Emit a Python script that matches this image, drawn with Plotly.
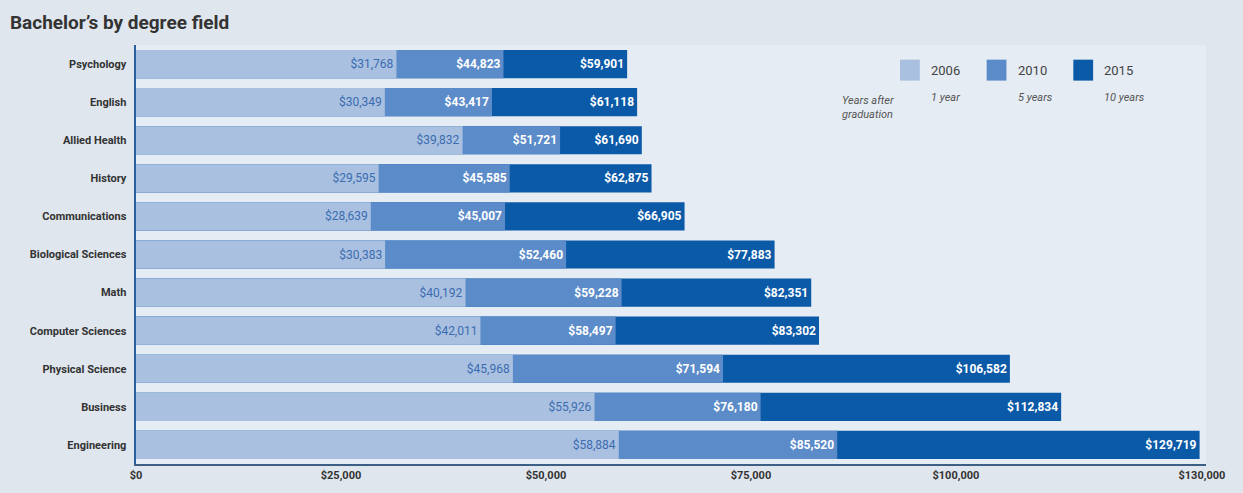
import plotly.graph_objects as go

categories = ["Psychology", "English", "Allied Health", "History", "Communications",
              "Biological Sciences", "Math", "Computer Sciences", "Physical Science",
              "Business", "Engineering"]
y2006 = [31768, 30349, 39832, 29595, 28639, 30383, 40192, 42011, 45968, 55926, 58884]
y2010 = [44823, 43417, 51721, 45585, 45007, 52460, 59228, 58497, 71594, 76180, 85520]
y2015 = [59901, 61118, 61690, 62875, 66905, 77883, 82351, 83302, 106582, 112834, 129719]
series_names = ["2006", "2010", "2015"]
series_sub = ["1 year", "5 years", "10 years"]
tick_vals = [0, 25000, 50000, 75000, 100000, 130000]
tick_text = ["$0", "$25,000", "$50,000", "$75,000", "$100,000", "$130,000"]

colors = {"2006": "#a9c0e0", "2010": "#5b8bc8", "2015": "#0b5aa8"}
text_colors = {"2006": "#3b6cb0", "2010": "#ffffff", "2015": "#ffffff"}
text_weight = {"2006": "normal", "2010": "bold", "2015": "bold"}
FONT = "Liberation Sans Narrow, Arial Narrow, Roboto, sans-serif"

def fmt(v):
    return "${:,}".format(v)

fig = go.Figure()
for name, vals in [("2015", y2015), ("2010", y2010), ("2006", y2006)]:
    fig.add_trace(go.Bar(
        y=categories, x=vals, orientation="h", name=name,
        marker=dict(color=colors[name], line=dict(width=0)),
        text=[fmt(v) for v in vals], textposition="inside",
        insidetextanchor="end", textangle=0, constraintext="none",
        textfont=dict(color=text_colors[name], size=12, family=FONT,
                      weight=text_weight[name]),
        width=0.74, showlegend=False,
    ))

fig.update_layout(
    barmode="overlay",
    width=1243, height=493,
    margin=dict(l=136, r=37, t=45, b=29),
    paper_bgcolor="#dfe6ee",
    plot_bgcolor="#e5ecf4",
    font=dict(family=FONT, color="#333333"),
    uniformtext=dict(minsize=12, mode="show"),
    title=dict(text="Bachelor’s by degree field", x=0.008, xanchor="left",
               y=0.955, yanchor="middle",
               font=dict(size=19, color="#333333", family=FONT, weight="bold")),
    xaxis=dict(range=[0, 130500], tickvals=tick_vals, ticktext=tick_text,
               showgrid=False, zeroline=False, showline=True, linecolor="#3e5f85",
               linewidth=2, ticks="",
               tickfont=dict(size=11, color="#333333", weight="bold"),
               fixedrange=True),
    yaxis=dict(autorange="reversed", showgrid=False, zeroline=False,
               showline=True, linecolor="#2a5fa0", linewidth=2, ticks="",
               ticksuffix="  ",
               tickfont=dict(size=11, color="#333333", weight="bold"),
               range=[10.5, -0.5]),
)

# custom legend
legend_x = [0.714, 0.795, 0.876]
for i, name in enumerate(series_names):
    x0 = legend_x[i]
    fig.add_shape(type="rect", xref="paper", yref="paper",
                  x0=x0, x1=x0 + 0.0185, y0=0.915, y1=0.965,
                  fillcolor=colors[name], line=dict(width=0))
    fig.add_annotation(xref="paper", yref="paper", x=x0 + 0.027, y=0.94,
                       text=name, showarrow=False, xanchor="left", yanchor="middle",
                       font=dict(size=13, color="#444444", family=FONT))
    fig.add_annotation(xref="paper", yref="paper", x=x0 + 0.027, y=0.875,
                       text="<i>" + series_sub[i] + "</i>", showarrow=False,
                       xanchor="left", yanchor="middle",
                       font=dict(size=11, color="#555555", family=FONT))
fig.add_annotation(xref="paper", yref="paper", x=0.658, y=0.85,
                   text="<i>Years after<br>graduation</i>", showarrow=False,
                   xanchor="left", yanchor="middle", align="left",
                   font=dict(size=11, color="#555555", family=FONT))

fig.write_html("out.html")
